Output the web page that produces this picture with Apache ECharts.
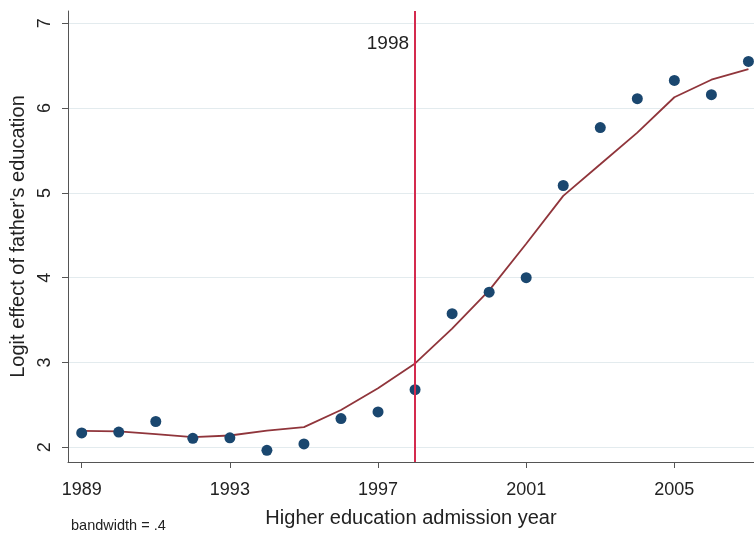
<!DOCTYPE html>
<html>
<head>
<meta charset="utf-8">
<script src="https://cdn.jsdelivr.net/npm/echarts@6/dist/echarts.min.js"></script>
<style>
html,body{margin:0;padding:0;background:#fff;}
#chart{width:754px;height:533px;}
</style>
</head>
<body>
<div id="chart"></div>
<script>
const years = [1989,1990,1991,1992,1993,1994,1995,1996,1997,1998,1999,2000,2001,2002,2003,2004,2005,2006,2007];
const logitEffect = [2.17,2.18,2.305,2.106,2.113,1.965,2.04,2.34,2.418,2.68,3.576,3.83,4.0,5.087,5.77,6.11,6.326,6.158,6.55];
const lowessFit = [2.195,2.188,2.156,2.12,2.14,2.197,2.238,2.44,2.696,2.99,3.40,3.85,4.40,4.965,5.337,5.71,6.127,6.334,6.46];
const xTicks = [1989,1993,1997,2001,2005];
const yTicks = [2,3,4,5,6,7];
const cutoffYear = 1998;
const cutoffLabel = '1998';
const noteText = 'bandwidth = .4';

const chart = echarts.init(document.getElementById('chart'));
const font = 'Liberation Sans, Arial, sans-serif';
const axisColor = '#555555';
chart.setOption({
  backgroundColor: '#ffffff',
  animation: false,
  grid: {left: 67, right: 0, top: 11, bottom: 68},
  xAxis: {
    type: 'value', min: 1988.63, max: 2007.15,
    name: 'Higher education admission year', nameLocation: 'middle', nameGap: 46,
    nameTextStyle: {fontFamily: font, fontSize: 20, color: '#222'},
    axisLine: {show: true, onZero: false, lineStyle: {color: axisColor, width: 1}},
    axisTick: {show: true, length: 6, customValues: xTicks, lineStyle: {color: axisColor}},
    axisLabel: {customValues: xTicks, formatter: v => String(v), fontFamily: font, fontSize: 18, color: '#222', margin: 19},
    splitLine: {show: false}
  },
  yAxis: {
    type: 'value', min: 1.8275, max: 7.144,
    name: "Logit effect of father's education", nameLocation: 'middle', nameGap: 40,
    nameTextStyle: {fontFamily: font, fontSize: 20, color: '#222'},
    axisLine: {show: true, onZero: false, lineStyle: {color: axisColor, width: 1}},
    axisTick: {show: true, length: 6, customValues: yTicks, lineStyle: {color: axisColor}},
    axisLabel: {customValues: yTicks, formatter: v => String(v), rotate: 90, fontFamily: font, fontSize: 18, color: '#222', margin: 14},
    splitLine: {show: true, lineStyle: {color: '#e3ebee', width: 1.2}}
  },
  graphic: [{
    type: 'text', left: 71, top: 518,
    style: {text: noteText, fontFamily: font, fontSize: 14.5, fill: '#222'}
  }],
  series: [
    {
      type: 'line', data: years.map((y,i)=>[y, lowessFit[i]]),
      showSymbol: false, symbol: 'none', smooth: false,
      lineStyle: {color: '#90353b', width: 1.8}, z: 3,
      markLine: {
        silent: true, symbol: 'none',
        lineStyle: {color: '#d42a4e', width: 2, type: 'solid'},
        label: {show: false},
        data: [{xAxis: cutoffYear}]
      },
      markPoint: {
        symbol: 'circle', symbolSize: 0,
        label: {show: true, formatter: cutoffLabel, position: 'left', distance: 6, fontFamily: font, fontSize: 19, color: '#222'},
        data: [{coord: [cutoffYear, 6.757]}]
      }
    },
    {
      type: 'scatter', data: years.map((y,i)=>[y, logitEffect[i]]),
      symbol: 'circle', symbolSize: 11, clip: false,
      itemStyle: {color: '#1a476f', opacity: 1}, z: 4
    }
  ]
});
</script>
</body>
</html>
